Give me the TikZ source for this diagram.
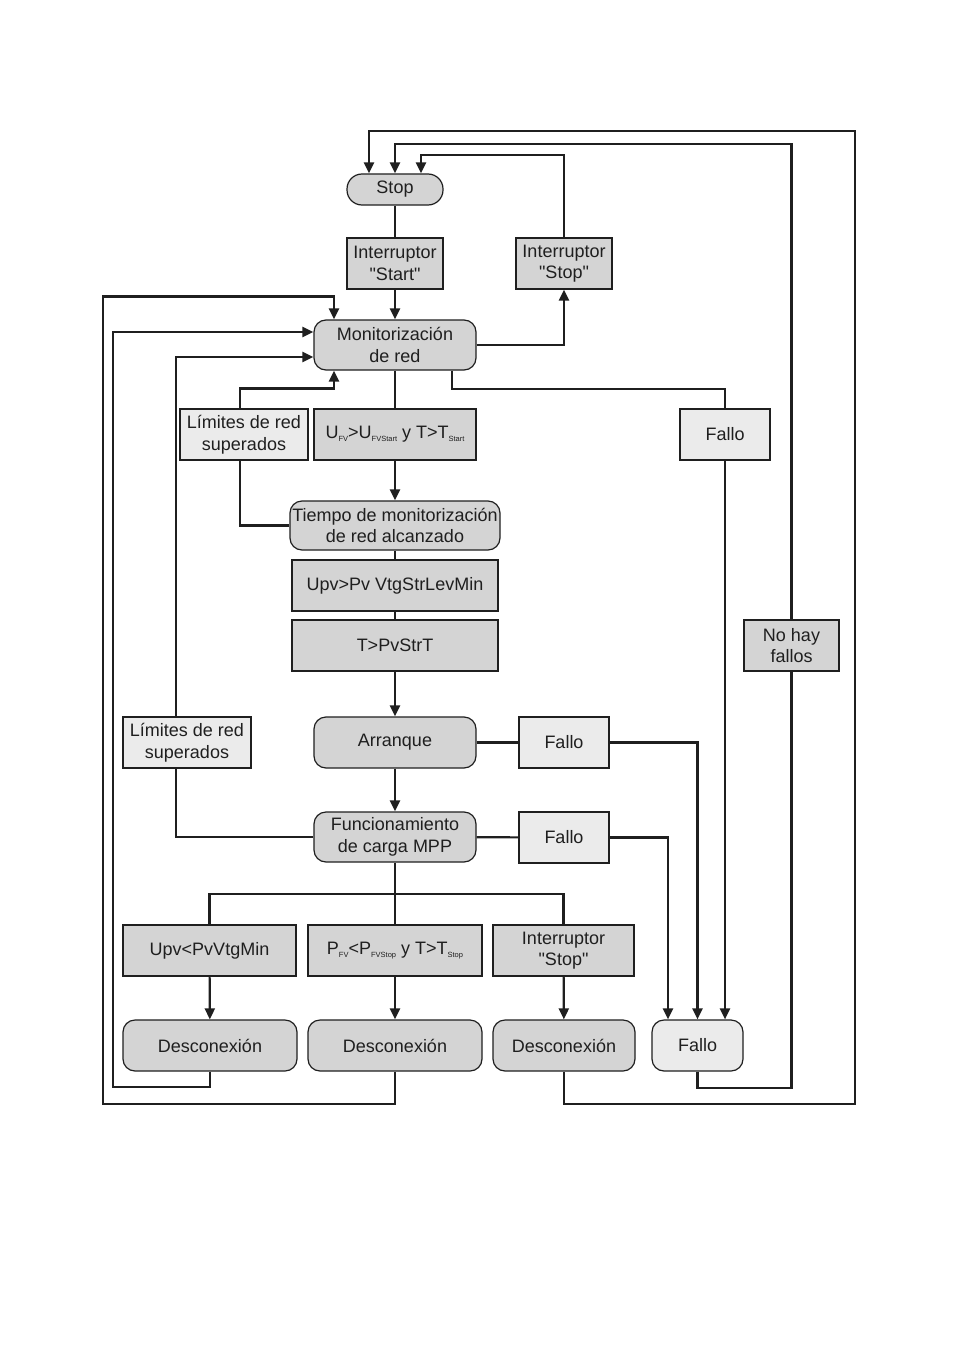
\documentclass[tikz,border=0pt]{standalone}
\usepackage{fontspec}
\setmainfont{Liberation Sans}[Ligatures=TeXOff]
\usepackage{tikz}
\usetikzlibrary{arrows.meta}

\definecolor{boxgray}{gray}{0.83}
\definecolor{boxlight}{gray}{0.92}
\definecolor{linegray}{gray}{0.12}
\newcommand{\sbs}[1]{\raisebox{-2.5pt}{\fontsize{7.5}{8}\selectfont #1}}

\begin{document}
\begin{tikzpicture}[x=1pt,y=-1pt,
  every node/.style={font=\fontsize{18}{21.5}\selectfont, text=linegray, align=center, inner sep=0pt},
  cond/.style={draw=linegray, line width=1.2, fill=boxgray, minimum height=51},
  condl/.style={cond, fill=boxlight},
  state/.style={cond, rounded corners=12},
  link/.style={draw=linegray, line width=2.2},
  >={Triangle[length=11pt,width=10pt]}]
  \useasboundingbox (0,0) rectangle (954,1351);
  % states and conditions
  \node[state, rounded corners=15, minimum width=96, minimum height=31] (stop) at (395,189.5) {Stop};
  \node[cond, minimum width=96] (istart) at (395,263.5) {Interruptor\\"Start"};
  \node[cond, minimum width=96] (istop) at (564,263.5) {Interruptor\\"Stop"};
  \node[state, minimum width=162, minimum height=50] (mon) at (395,345) {Monitorización\\de red};
  \node[condl, minimum width=128] (lim1) at (244,434.5) {Límites de red\\superados};
  \node[cond, minimum width=162] (ufv) at (395,434.5) {U\sbs{FV}>U\sbs{FVStart} y T>T\sbs{Start}};
  \node[condl, minimum width=90] (fallo1) at (725,434.5) {Fallo};
  \node[state, minimum width=210, minimum height=49] (tiempo) at (395,525.5) {Tiempo de monitorización\\de red alcanzado};
  \node[cond, line width=1.6, minimum width=206] (upv1) at (395,585.5) {Upv>Pv VtgStrLevMin};
  \node[cond, line width=1.6, minimum width=206] (tpv) at (395,645.5) {T>PvStrT};
  \node[cond, minimum width=95] (nohay) at (791.5,645.5) {No hay\\fallos};
  \node[condl, minimum width=128] (lim2) at (187,742.5) {Límites de red\\superados};
  \node[state, minimum width=162] (arr) at (395,742.5) {Arranque};
  \node[condl, minimum width=90] (fallo2) at (564,742.5) {Fallo};
  \node[state, minimum width=162, minimum height=50] (func) at (395,837) {Funcionamiento\\de carga MPP};
  \node[condl, minimum width=90] (fallo3) at (564,837.5) {Fallo};
  \node[cond, minimum width=173] (c1) at (209.5,950.5) {Upv<PvVtgMin};
  \node[cond, minimum width=174] (c2) at (395,950.5) {P\sbs{FV}<P\sbs{FVStop} y T>T\sbs{Stop}};
  \node[cond, minimum width=141] (c3) at (563.5,950.5) {Interruptor\\"Stop"};
  \node[state, minimum width=174] (d1) at (210,1045.5) {Desconexión};
  \node[state, minimum width=174] (d2) at (395,1045.5) {Desconexión};
  \node[state, minimum width=142] (d3) at (564,1045.5) {Desconexión};
  \node[state, fill=boxlight, minimum width=91] (fallob) at (697.5,1045.5) {Fallo};
  % main column
  \draw[link] (stop) -- (istart);
  \draw[link,->] (istart) -- (mon);
  \draw[link,->] (mon.east) -| (istop);
  \draw[link,->] (istop.north) |- ([xshift=26pt,yshift=18pt]stop.north) -- ([xshift=26pt]stop.north);
  \draw[link] (mon) -- (ufv);
  \draw[link,->] (ufv) -- (tiempo);
  \draw[link] (tiempo) -- (upv1);
  \draw[link] (upv1) -- (tpv);
  \draw[link,->] (tpv) -- (arr);
  \draw[link,->] (arr) -- (func);
  % grid limits
  \draw[link] (tiempo.west) -| ([xshift=-4pt]lim1.south);
  \draw[link,->] ([xshift=-4pt]lim1.north) -- ++(0,-20) -| ([xshift=-61pt]mon.south);
  \draw[link] (func.west) -| ([xshift=-11pt]lim2.south);
  \draw[link,->] ([xshift=-11pt]lim2.north) |- ([yshift=-12pt]mon.west);
  % faults
  \draw[link] ([xshift=57pt]mon.south) -- ++(0,18) -| (fallo1.north);
  \draw[link,->] (fallo1.south) -- (fallo1.south |- fallob.north);
  \draw[link] (arr) -- (fallo2);
  \draw[link,->] (fallo2.east) -| (fallob.north);
  \draw[link] (func) -- (fallo3);
  \draw[link,->] (fallo3.east) -| ([xshift=-29.5pt]fallob.north);
  \draw[link] (fallob.south) -- ++(0,16) -| (nohay.south);
  \draw[link,->] (nohay.north) |- ([yshift=29pt]stop.north) -- (stop.north);
  % disconnection
  \draw[link] (func.south) -- ++(0,31) coordinate (br);
  \draw[link] (c1.north) |- (br) -| (c3.north);
  \draw[link] (br) -- (c2.north);
  \draw[link,->] (c1) -- (d1);
  \draw[link,->] (c2) -- (d2);
  \draw[link,->] (c3) -- (d3);
  \draw[link,->] (d1.south) -- ++(0,15) -- ++(-97,0) |- ([yshift=13pt]mon.west);
  \draw[link,->] (d2.south) -- ++(0,32) -- ++(-292,0) |- ([xshift=-61pt,yshift=23pt]mon.north) -- ([xshift=-61pt]mon.north);
  \draw[link,->] (d3.south) -- ++(0,32) -- ++(291,0) |- ([xshift=-26pt,yshift=42pt]stop.north) -- ([xshift=-26pt]stop.north);
\end{tikzpicture}
\end{document}
